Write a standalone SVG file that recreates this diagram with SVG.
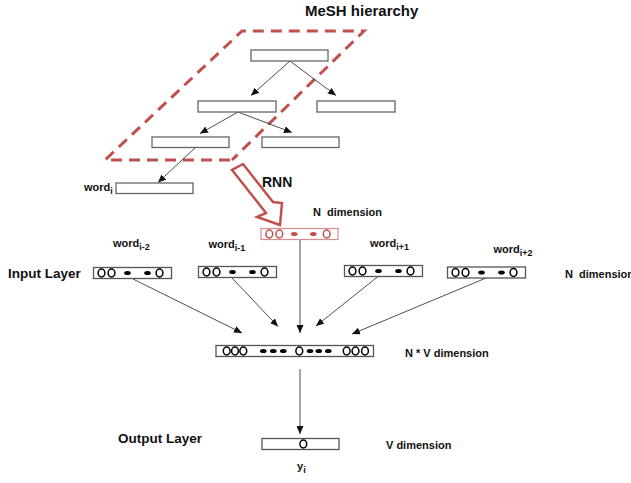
<svg xmlns="http://www.w3.org/2000/svg" width="631" height="483" viewBox="0 0 631 483">
<style>
text{font-family:"Liberation Sans",Arial,sans-serif;font-weight:bold;fill:#111}
.t11{font-size:11px}
.sub{font-size:9px}
.box{fill:#fff;stroke:#666;stroke-width:1.3}
.vbox{fill:#fff;stroke:#555;stroke-width:1.3}
.o{fill:none;stroke:#000;stroke-width:1.5}
.d{fill:#000}
.conn{stroke:#222;stroke-width:0.8;fill:none;marker-end:url(#ah)}
</style>
<defs>
<marker id="ah" markerUnits="userSpaceOnUse" markerWidth="8" markerHeight="7" refX="8" refY="3.5" orient="auto">
<path d="M0,0 L8,3.5 L0,7 Z" fill="#111"/>
</marker>
<g id="vec">
<rect class="vbox" x="0" y="0" width="78" height="11"/>
<ellipse class="o" cx="8" cy="5.5" rx="3.4" ry="3.9"/>
<ellipse class="o" cx="18" cy="5.5" rx="3.4" ry="3.9"/>
<ellipse class="d" cx="34" cy="5.5" rx="3.3" ry="2"/>
<ellipse class="d" cx="54" cy="5.5" rx="3.3" ry="2"/>
<ellipse class="o" cx="66" cy="5.5" rx="3.4" ry="3.9"/>
</g>
</defs>
<rect width="631" height="483" fill="#fff"/>

<text x="305" y="16" style="font-size:15px">MeSH hierarchy</text>

<g id="mesh-region">
<path d="M230,160 L105,160 L242,31 L364,31 L232,160" fill="none" stroke="#c0504d" stroke-width="3" stroke-dasharray="11 7"/>
</g>

<g id="connectors">
<line class="conn" x1="290" y1="61" x2="251" y2="95.5"/>
<line class="conn" x1="290" y1="61" x2="336" y2="95.5"/>
<line class="conn" x1="238" y1="112" x2="200" y2="133.5"/>
<line class="conn" x1="238" y1="112" x2="292" y2="132.5"/>
<line class="conn" x1="196" y1="147" x2="158" y2="182.5"/>
<line class="conn" x1="300" y1="239" x2="300" y2="333"/>
<line class="conn" x1="133" y1="279" x2="242" y2="333"/>
<line class="conn" x1="232" y1="278" x2="278" y2="326.5"/>
<line class="conn" x1="378" y1="276.5" x2="316" y2="326"/>
<line class="conn" x1="486" y1="278" x2="352" y2="334"/>
<line class="conn" x1="300" y1="369" x2="300" y2="434"/>
</g>

<g id="mesh-root"><rect class="box" x="251" y="50" width="77" height="11"/></g>
<g id="mesh-l2a"><rect class="box" x="198" y="101" width="78" height="11"/></g>
<g id="mesh-l2b"><rect class="box" x="317" y="101" width="78" height="11"/></g>
<g id="mesh-l3a"><rect class="box" x="152" y="137" width="77" height="10.5"/></g>
<g id="mesh-l3b"><rect class="box" x="262" y="137" width="77" height="10.5"/></g>
<g id="word-i">
<rect class="box" x="116" y="183" width="77" height="10.5"/>
<text x="84" y="191" class="t11">word<tspan class="sub" dy="3">i</tspan></text>
</g>

<g id="rnn-arrow">
<polygon points="243,164 273,202 282,203 280,225 257,217 266,213 232,170" fill="#fff" stroke="#c0504d" stroke-width="2.5" stroke-linejoin="miter"/>
<text x="262" y="187" style="font-size:14px">RNN</text>
</g>

<g id="rnn-vector">
<text x="313" y="216" class="t11" style="white-space:pre">N  dimension</text>
<rect x="261" y="228.5" width="77" height="11" fill="#fff" stroke="#d98c8c" stroke-width="1.2"/>
<g stroke="#c0504d" fill="none" stroke-width="1.5">
<ellipse cx="269.3" cy="234" rx="3.4" ry="3.9"/>
<ellipse cx="279.3" cy="234" rx="3.4" ry="3.9"/>
<ellipse cx="326.7" cy="234" rx="3.4" ry="3.9"/>
</g>
<ellipse cx="294.3" cy="234" rx="3.3" ry="2" fill="#c0504d"/>
<ellipse cx="313.3" cy="234" rx="3.3" ry="2" fill="#c0504d"/>
</g>

<g id="input-layer">
<text x="8" y="278" style="font-size:13.5px">Input Layer</text>
<text x="565" y="278" class="t11" style="white-space:pre">N  dimension</text>
</g>

<g id="input-i-2">
<text x="113" y="246.5" class="t11">word<tspan class="sub" dy="3">i-2</tspan></text>
<use href="#vec" x="93.5" y="267.5"/>
</g>
<g id="input-i-1">
<text x="208.5" y="248" class="t11">word<tspan class="sub" dy="3">i-1</tspan></text>
<use href="#vec" x="198.5" y="266.5"/>
</g>
<g id="input-i+1">
<text x="370" y="247" class="t11">word<tspan class="sub" dy="3">i+1</tspan></text>
<use href="#vec" x="344.5" y="265.5"/>
</g>
<g id="input-i+2">
<text x="493.5" y="253" class="t11">word<tspan class="sub" dy="3">i+2</tspan></text>
<use href="#vec" x="447.5" y="267"/>
</g>

<g id="hidden">
<rect class="vbox" x="216" y="345.5" width="157.5" height="11"/>
<g class="o">
<ellipse cx="226.7" cy="351" rx="3.4" ry="3.9"/>
<ellipse cx="235" cy="351" rx="3.4" ry="3.9"/>
<ellipse cx="243.3" cy="351" rx="3.4" ry="3.9"/>
<ellipse cx="299.3" cy="351" rx="3.4" ry="3.9"/>
<ellipse cx="346.7" cy="351" rx="3.4" ry="3.9"/>
<ellipse cx="355.5" cy="351" rx="3.4" ry="3.9"/>
<ellipse cx="365" cy="351" rx="3.4" ry="3.9"/>
</g>
<g class="d">
<ellipse cx="263.3" cy="351" rx="3.3" ry="2"/>
<ellipse cx="273.3" cy="351" rx="3.3" ry="2"/>
<ellipse cx="283.3" cy="351" rx="3.3" ry="2"/>
<ellipse cx="310" cy="351" rx="3.3" ry="2"/>
<ellipse cx="318.8" cy="351" rx="3.3" ry="2"/>
<ellipse cx="328.3" cy="351" rx="3.3" ry="2"/>
</g>
<text x="405" y="357" class="t11">N * V dimension</text>
</g>

<g id="output">
<text x="118" y="443" style="font-size:13.5px">Output Layer</text>
<rect class="vbox" x="262" y="438.5" width="77" height="11"/>
<ellipse class="o" cx="303.3" cy="444" rx="3.4" ry="3.9"/>
<text x="386" y="449" class="t11">V dimension</text>
<text x="297" y="470" class="t11">y<tspan class="sub" dy="3">i</tspan></text>
</g>
</svg>
